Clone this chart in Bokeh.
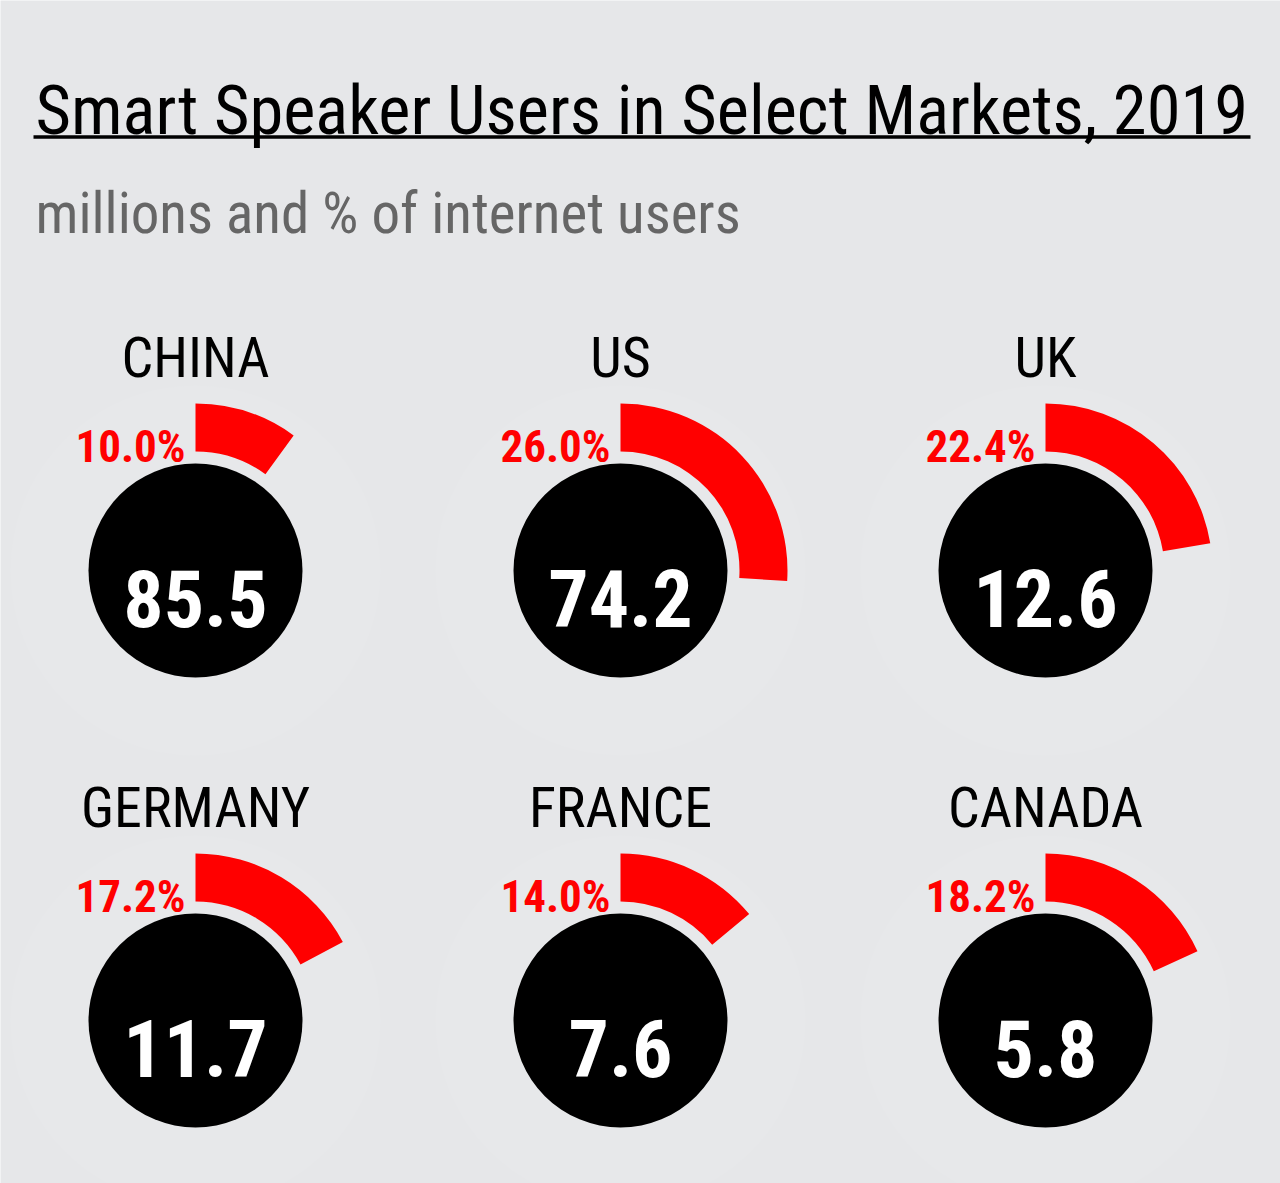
import numpy as np
from bokeh.plotting import figure
from bokeh.models import Range1d, ColumnDataSource
from bokeh.core.properties import value
from bokeh.embed import file_html
from bokeh.resources import INLINE

# ---- data ----
title_text = "Smart Speaker Users in Select Markets, 2019"
subtitle_text = "millions and % of internet users"
countries = ["CHINA", "US", "UK", "GERMANY", "FRANCE", "CANADA"]
users_millions = [85.5, 74.2, 12.6, 11.7, 7.6, 5.8]
pct_of_internet_users = [10.0, 26.0, 22.4, 17.2, 14.0, 18.2]

# ---- layout / style ----
W, H = 1280, 1183
BG = "#e6e7e9"
GLOW = "#e7e8ea"
RED = "#ff0000"
FONT = "Roboto Condensed"

col_x = [195, 620, 1045]
row_y = [H - 570, H - 1020]
n = len(countries)
cx = [col_x[i % 3] for i in range(n)]
cy = [row_y[i // 3] for i in range(n)]

pct = np.array(pct_of_internet_users)
src = ColumnDataSource(dict(
    x=cx, y=cy,
    country=countries,
    users=[f"{v:.1f}" for v in users_millions],
    pct=[f"{v:.1f}%" for v in pct_of_internet_users],
    start=np.pi / 2 - pct / 100.0 * 2 * np.pi,
    end=[np.pi / 2] * n,
    label_y=[y + 213 for y in cy],
    pct_x=[x - 10 for x in cx],
    pct_y=[y + 124 for y in cy],
    val_y=[y - 28 for y in cy],
))

p = figure(width=W, height=H, x_range=Range1d(0, W), y_range=Range1d(0, H),
           output_backend="svg", toolbar_location=None, min_border=0,
           x_axis_location=None, y_axis_location=None)
p.grid.visible = False
p.outline_line_color = None
p.background_fill_color = BG
p.border_fill_color = BG

# faint glow behind each gauge
p.circle(x="x", y="y", radius=185, fill_color=GLOW, line_color=None, source=src)
# red arc: share of internet users (clockwise from 12 o'clock)
p.annular_wedge(x="x", y="y", inner_radius=119, outer_radius=167,
                start_angle="start", end_angle="end",
                fill_color=RED, line_color=None, source=src)
# black disc
p.circle(x="x", y="y", radius=107, fill_color="black", line_color=None, source=src)

# values inside the disc (millions)
p.text(x="x", y="val_y", text="users", source=src, text_color="white",
       text_font=value(FONT), text_font_style="bold", text_font_size="80px",
       text_align="center", text_baseline="alphabetic")
# % of internet users
p.text(x="pct_x", y="pct_y", text="pct", source=src, text_color=RED,
       text_font=value(FONT), text_font_style="bold", text_font_size="45px",
       text_align="right", text_baseline="alphabetic")
# country names
p.text(x="x", y="label_y", text="country", source=src, text_color="black",
       text_font=value(FONT), text_font_size="56px",
       text_align="center", text_baseline="alphabetic")

# title, underline, subtitle
p.text(x=[35], y=[H - 110], text=[title_text], text_color="black",
       text_font=value(FONT), text_font_size="68.5px",
       text_align="left", text_baseline="alphabetic")
p.segment(x0=[33], y0=[H - 136.5], x1=[1250], y1=[H - 136.5],
          line_color="black", line_width=3.5)
p.text(x=[35], y=[H - 213], text=[subtitle_text], text_color="#666666",
       text_font=value(FONT), text_font_size="57px",
       text_align="left", text_baseline="alphabetic")

open("out.html", "w").write(file_html(p, INLINE))
